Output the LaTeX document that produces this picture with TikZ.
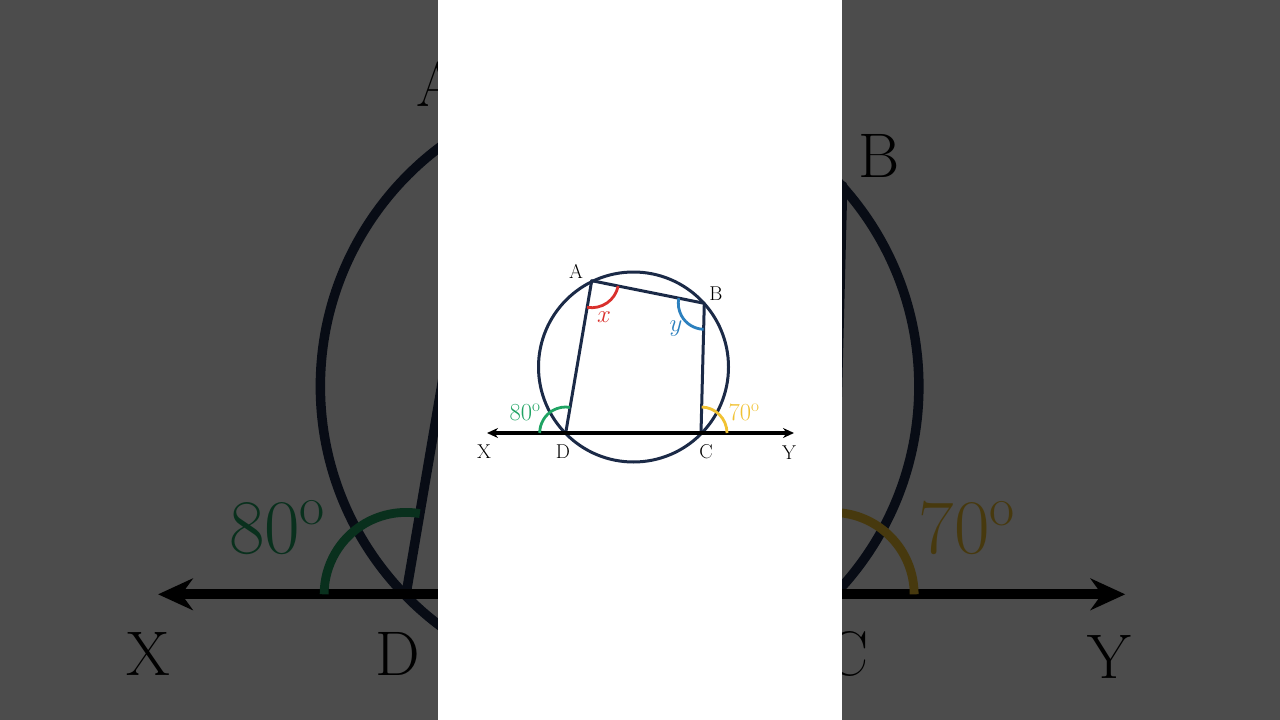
\documentclass[tikz,border=0pt]{standalone}
\usepackage{tikz}
\usepackage{xcolor}
\usetikzlibrary{arrows.meta}

\definecolor{navy}{HTML}{1B2A47}
\definecolor{angred}{HTML}{D9302C}
\definecolor{angblue}{HTML}{2C80BE}
\definecolor{anggreen}{HTML}{1FA363}
\definecolor{angyellow}{HTML}{F1C232}

% line width factor (changed for the enlarged copy behind)
\newcommand{\lwf}{1}

\tikzset{
    rim/.style={draw=navy, line width={3pt*\lwf}},
    side/.style={draw=navy, line width={3pt*\lwf}, line join=round},
    axisline/.style={draw=black, line width={3.2pt*\lwf},
        {Stealth[length=11pt, width=10pt, scale=\lwf]}-{Stealth[length=11pt, width=10pt, scale=\lwf]}},
    angarc/.style={line width={2.8pt*\lwf}},
    vertex/.style={font=\fontsize{20}{22}\selectfont, inner sep=0pt},
    anglab/.style={font=\fontsize{24.5}{26}\selectfont, inner sep=0pt},
    varlab/.style={font=\fontsize{25}{26}\selectfont, inner sep=0pt},
}

\newcommand{\quadfigure}{%
    \coordinate (O) at (633.5, 367);
    \coordinate (A) at (591.7, 280.7);
    \coordinate (B) at (704.3, 303.3);
    \coordinate (C) at (701, 433);
    \coordinate (D) at (565.7, 433);
    \coordinate (X) at (487, 433);
    \coordinate (Y) at (794, 433);

    \draw[rim] (O) circle[radius=95];
    \draw[side] (D) -- (A) -- (B) -- (C);
    \draw[axisline] (X) -- (Y);

    % angle marks
    \draw[angarc, angred] ([shift={(11.35:27)}]A) arc[start angle=11.35, end angle=99.7, radius=27];
    \draw[angarc, angblue] ([shift={(91.46:26)}]B) arc[start angle=91.46, end angle=191.35, radius=26];
    \draw[angarc, anggreen] ([shift={(180:26)}]D) arc[start angle=180, end angle=279.7, radius=26];
    \draw[angarc, angyellow] ([shift={(271.46:26)}]C) arc[start angle=271.46, end angle=360, radius=26];

    \node[vertex] (lblA) at (576, 271) {A};
    \node[vertex] (lblB) at (716, 294) {B};
    \node[vertex] (lblC) at (706, 452) {C};
    \node[vertex] (lblD) at (563, 452) {D};
    \node[vertex] (lblX) at (484, 452) {X};
    \node[vertex] (lblY) at (789, 453) {Y};

    \node[varlab, text=angred] (lblx) at (604, 317) {\(x\)};
    \node[varlab, text=angblue] (lbly) at (676, 329) {\(y\)};
    \node[anglab, text=anggreen] (lbl80) at (525, 412) {80\(^{\mathrm{o}}\)};
    \node[anglab, text=angyellow] (lbl70) at (744, 412) {70\(^{\mathrm{o}}\)};
}

\begin{document}
\begin{tikzpicture}[x=1pt, y=-1pt]
    \useasboundingbox (0, 0) rectangle (1280, 720);
    \fill[white] (0, 0) rectangle (1280, 720);

    % enlarged, darkened copy behind
    \begin{scope}[scale around={3.15:(640, 358)}, every node/.append style={transform shape}]
        \renewcommand{\lwf}{3.15}
        \quadfigure
    \end{scope}
    \fill[black, opacity=0.7] (0, 0) rectangle (1280, 720);

    % white panel with the figure
    \fill[white] (438, 0) rectangle (842, 720);
    \quadfigure
\end{tikzpicture}
\end{document}
